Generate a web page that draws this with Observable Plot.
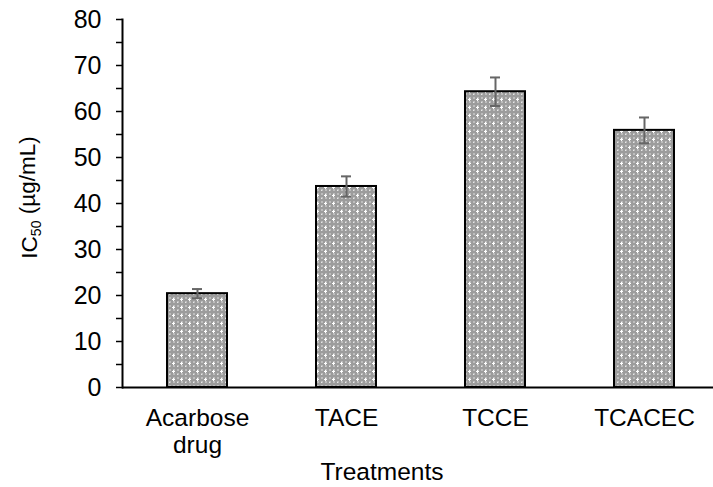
<!DOCTYPE html>
<html>
<head>
<meta charset="utf-8">
<script src="https://cdn.jsdelivr.net/npm/d3@7"></script>
<script src="https://cdn.jsdelivr.net/npm/@observablehq/plot@0.6"></script>
<style>
  html, body { margin: 0; padding: 0; background: #fff; }
  #chart svg { display: block; }
</style>
</head>
<body>
<div id="chart"></div>
<script>
const categories = ["Acarbose drug", "TACE", "TCCE", "TCACEC"];
const categoryLabels = ["Acarbose\ndrug", "TACE", "TCCE", "TCACEC"];
const values = [20.4, 43.7, 64.3, 55.9];
const errors = [1.0, 2.2, 3.1, 2.8];
const yMajorTicks = [0, 10, 20, 30, 40, 50, 60, 70, 80];
const yMinorTicks = [5, 15, 25, 35, 45, 55, 65, 75];
const xTitle = "Treatments";
const yTitle = "IC50 (µg/mL)";

const data = categories.map((c, i) => ({
  cat: c, label: categoryLabels[i], value: values[i], err: errors[i]
}));
const labelOf = new Map(data.map(d => [d.cat, d.label]));

const chart = Plot.plot({
  width: 713,
  height: 487,
  marginTop: 19,
  marginBottom: 100,
  marginLeft: 122,
  marginRight: 0,
  style: { fontFamily: "'Liberation Sans', Arial, sans-serif", fontSize: "24px", color: "#000", background: "#fff" },
  x: { domain: categories, range: [122, 718], paddingInner: 0.6, paddingOuter: 0.3, axis: null },
  y: { domain: [0, 80], axis: null },
  marks: [
    Plot.barY(data, { x: "cat", y: "value", fill: "url(#dotpattern)", stroke: "#000", strokeWidth: 2 }),
    Plot.ruleX(data, { x: "cat", y1: d => d.value - d.err, y2: d => d.value + d.err, stroke: "#666", strokeWidth: 2 }),
    Plot.tickY(data, { x: "cat", y: d => d.value - d.err, stroke: "#666", strokeWidth: 2, insetLeft: 25, insetRight: 25 }),
    Plot.tickY(data, { x: "cat", y: d => d.value + d.err, stroke: "#666", strokeWidth: 2, insetLeft: 25, insetRight: 25 }),
    Plot.axisY({ ticks: yMajorTicks, tickSize: 6, tickPadding: 15, tickFormat: d => String(d), fontSize: 25, strokeWidth: 1.5, label: null }),
    Plot.axisY({ ticks: yMinorTicks, tickSize: 6, tickFormat: () => "", strokeWidth: 1.5, label: null }),
    Plot.axisX({ tickSize: 0, tickPadding: 20, tickFormat: d => labelOf.get(d), fontSize: 24.5, lineHeight: 1.08, label: null }),
    Plot.ruleY([0], { stroke: "#000", strokeWidth: 2 }),
    Plot.frame({ anchor: "left", stroke: "#000", strokeWidth: 2 }),
    Plot.text([xTitle], { frameAnchor: "bottom", dy: 75, dx: -36, lineAnchor: "top", fontSize: 24.5 }),
    Plot.text([yTitle], { frameAnchor: "left", textAnchor: "middle", rotate: -90, dx: -101, dy: -6, lineAnchor: "top", fontSize: 22.5 })
  ]
});

// fill pattern for bars
const svg = d3.select(chart);
const defs = svg.insert("defs", ":first-child");
const pat = defs.append("pattern")
  .attr("id", "dotpattern")
  .attr("patternUnits", "userSpaceOnUse")
  .attr("width", 8).attr("height", 8)
  .attr("shape-rendering", "crispEdges");
pat.append("rect").attr("width", 8).attr("height", 8).attr("fill", "#9c9c9c");
[[0,0],[4,4],[0,4],[4,0]].forEach(([x, y]) => pat.append("rect").attr("x", x + 1).attr("y", y + 1).attr("width", 2).attr("height", 2).attr("fill", "#bdbdbd"));
pat.append("rect").attr("x", 5).attr("y", 2).attr("width", 1).attr("height", 3).attr("fill", "#fff");
pat.append("rect").attr("x", 4).attr("y", 3).attr("width", 3).attr("height", 1).attr("fill", "#fff");
pat.append("rect").attr("x", 1).attr("y", 6).attr("width", 1).attr("height", 1).attr("fill", "#e8e8e8");

// subscript in the y title
svg.selectAll("text").filter(function () { return this.textContent === yTitle; }).each(function () {
  const t = d3.select(this);
  t.text(null);
  t.append("tspan").text("IC");
  t.append("tspan").attr("font-size", "14px").attr("dy", "0.25em").text("50");
  t.append("tspan").attr("dy", "-0.25em").text(" (µg/mL)");
});

document.getElementById("chart").appendChild(chart);
</script>
</body>
</html>
